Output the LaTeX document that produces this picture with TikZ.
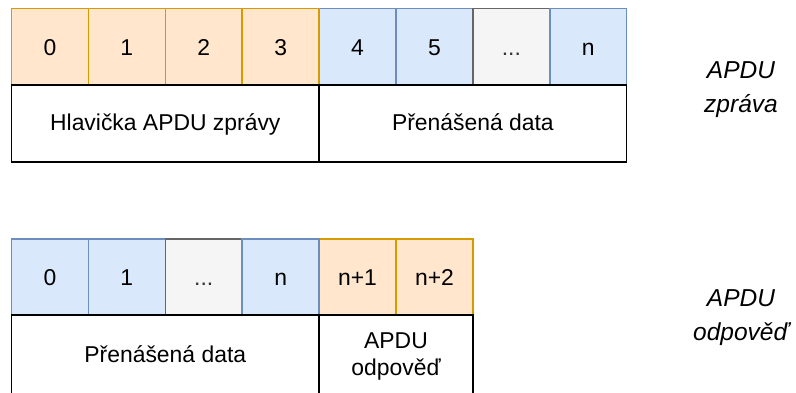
\documentclass[tikz,border=0pt]{standalone}
\usepackage{fontspec}
\setmainfont{Liberation Sans}
\definecolor{orfill}{HTML}{FFE6CC}
\definecolor{ordraw}{HTML}{D79B00}
\definecolor{blfill}{HTML}{DAE8FC}
\definecolor{bldraw}{HTML}{6C8EBF}
\definecolor{grfill}{HTML}{F5F5F5}
\definecolor{grdraw}{HTML}{666666}
\definecolor{grtext}{HTML}{333333}
\begin{document}
\begin{tikzpicture}[x=1pt,y=-1pt,
  base/.style={line width=1.5pt, inner sep=0pt, font=\fontsize{22.9}{26.7}\selectfont, text height=16.3pt, text depth=0pt},
  cell/.style={base, minimum width=76.9pt, minimum height=76.3pt},
  orcell/.style={cell, draw=ordraw, fill=orfill},
  blcell/.style={cell, draw=bldraw, fill=blfill},
  grcell/.style={cell, draw=grdraw, fill=grfill, text=grtext},
  wide/.style={base, draw=black, fill=white, minimum height=77pt},
  inlab/.style={inner sep=0pt, align=center, anchor=base, font=\fontsize{22.9}{26.7}\selectfont},
  side/.style={inner sep=0pt, align=center, anchor=base, font=\fontsize{24.5}{34}\selectfont\itshape}
]
\useasboundingbox (0,0) rectangle (796,392);
% ---- APDU zprava ----
\node[blcell] (t4) at (357.55,46.85) {4};
\node[blcell] (t5) at (434.45,46.85) {5};
\node[grcell] (t6) at (511.35,46.85) {...};
\node[blcell] (t7) at (588.25,46.85) {n};
\node[wide, minimum width=307.6pt, text height=13pt] (tdata) at (472.9,123.5) {Přenášená data};
\node[orcell] (t0) at (49.95,46.85) {0};
\node[orcell] (t1) at (126.85,46.85) {1};
\node[orcell] (t2) at (203.75,46.85) {2};
\node[orcell] (t3) at (280.65,46.85) {3};
\node[wide, minimum width=307.6pt, text height=13pt] (thead) at (165.3,123.5) {Hlavička APDU zprávy};
\node[side] (tlab) at (741,112.7) {APDU\\zpráva};
% ---- APDU odpoved ----
\node[orcell, minimum height=76pt, text height=16pt] (b4) at (357.55,277) {n+1};
\node[orcell, minimum height=76pt, text height=16pt] (b5) at (434.45,277) {n+2};
\node[wide, minimum width=153.8pt, minimum height=79pt] (bapdu) at (396,354.5) {};
\node[inlab] (bapdutext) at (bapdu.center |- 0,375) {APDU\\odpověď};
\node[blcell, minimum height=76pt, text height=16pt] (b0) at (49.95,277) {0};
\node[blcell, minimum height=76pt, text height=16pt] (b1) at (126.85,277) {1};
\node[grcell, minimum height=76pt, text height=16pt] (b2) at (203.75,277) {...};
\node[blcell, minimum height=76pt, text height=16pt] (b3) at (280.65,277) {n};
\node[wide, minimum width=307.6pt, minimum height=79pt, text height=15pt] (bdata) at (165.3,354.5) {Přenášená data};
\node[side] (blab) at (741,340) {APDU\\odpověď};
\end{tikzpicture}
\end{document}
